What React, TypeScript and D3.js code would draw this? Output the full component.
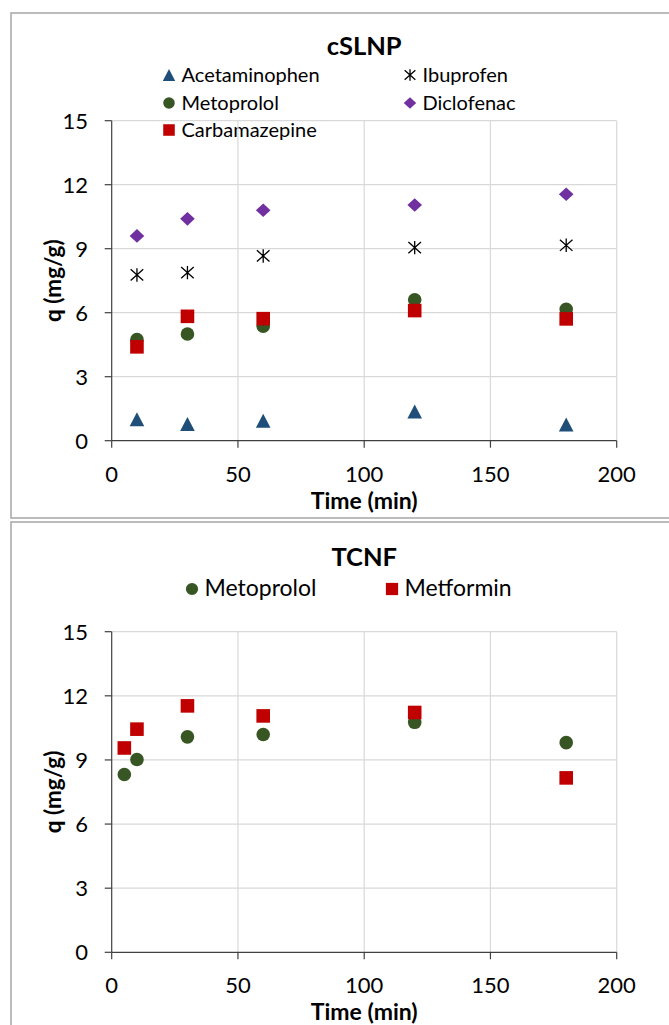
import React from "react";
import * as d3 from "d3";

// cSLNP panel
const timeTop = [10, 30, 60, 120, 180];
const acetaminophen = [1.01, 0.78, 0.94, 1.37, 0.76];
const ibuprofen = [7.77, 7.88, 8.66, 9.05, 9.16];
const metoprololTop = [4.74, 5.0, 5.37, 6.61, 6.16];
const diclofenac = [9.6, 10.4, 10.8, 11.05, 11.55];
const carbamazepine = [4.4, 5.83, 5.72, 6.1, 5.71];

// TCNF panel
const timeBottom = [5, 10, 30, 60, 120, 180];
const metoprololBottom = [8.32, 9.02, 10.08, 10.19, 10.76, 9.81];
const metformin = [9.56, 10.44, 11.53, 11.06, 11.22, 8.16];

const xTicks = [0, 50, 100, 150, 200];
const yTicks = [0, 3, 6, 9, 12, 15];

const FONT = "Lato, 'Open Sans', sans-serif";

// marker shapes (Excel style, ~14px)
const markerPath = (shape: string, cx: number, cy: number, s = 1) => {
    const p = d3.path();
    if (shape === "triangle") {
        p.moveTo(cx, cy - 7 * s);
        p.lineTo(cx + 7.3 * s, cy + 7 * s);
        p.lineTo(cx - 7.3 * s, cy + 7 * s);
        p.closePath();
    } else if (shape === "diamond") {
        p.moveTo(cx, cy - 6.8 * s);
        p.lineTo(cx + 7.3 * s, cy);
        p.lineTo(cx, cy + 6.8 * s);
        p.lineTo(cx - 7.3 * s, cy);
        p.closePath();
    } else if (shape === "square") {
        p.rect(cx - 6.8 * s, cy - 6.8 * s, 13.6 * s, 13.6 * s);
    } else if (shape === "circle") {
        p.moveTo(cx + 6.8 * s, cy);
        p.arc(cx, cy, 6.8 * s, 0, 2 * Math.PI);
    } else if (shape === "star") {
        p.moveTo(cx - 6.3 * s, cy - 5.6 * s); p.lineTo(cx + 6.3 * s, cy + 5.6 * s);
        p.moveTo(cx - 6.3 * s, cy + 5.6 * s); p.lineTo(cx + 6.3 * s, cy - 5.6 * s);
        p.moveTo(cx, cy - 6.7 * s); p.lineTo(cx, cy + 6.7 * s);
    }
    return p.toString();
};

const Marker = ({ shape, color, cx, cy, s = 1 }: any) =>
    shape === "star" ? (
        <path d={markerPath(shape, cx, cy, s)} stroke={color} strokeWidth={1.3} fill="none" />
    ) : (
        <path d={markerPath(shape, cx, cy, s)} fill={color} />
    );

const Panel = ({ title, titleY, top, bottom, series, legend, legendSize }: any) => {
    const xScale = d3.scaleLinear().domain([0, 200]).range([111.7, 616.7]);
    const yScale = d3.scaleLinear().domain([0, 15]).range([bottom, top]);
    const midX = (xScale(0) + xScale(200)) / 2;

    return (
        <g>
            {/* Title */}
            <text x={midX} y={titleY} textAnchor="middle" fontSize={25.5} fontWeight="bold" fontFamily={FONT}>
                {title}
            </text>

            {/* Legend */}
            {legend.map((l: any) => (
                <g key={l.name}>
                    <Marker shape={l.shape} color={l.color} cx={l.x} cy={l.y} s={l.s || 0.85} />
                    <text x={l.x + 12.5} y={l.y + 7} fontSize={legendSize} fontFamily={FONT}>
                        {l.name}
                    </text>
                </g>
            ))}

            {/* Gridlines */}
            {yTicks.filter(t => t > 0).map(t => (
                <line key={"gy" + t} x1={xScale(0)} x2={xScale(200)} y1={yScale(t)} y2={yScale(t)} stroke="#d9d9d9" strokeWidth={1.2} />
            ))}
            {xTicks.filter(t => t > 0).map(t => (
                <line key={"gx" + t} x1={xScale(t)} x2={xScale(t)} y1={yScale(0)} y2={yScale(15)} stroke="#d9d9d9" strokeWidth={1.2} />
            ))}

            {/* Axes */}
            <line x1={xScale(0)} x2={xScale(0)} y1={yScale(0)} y2={yScale(15)} stroke="#404040" strokeWidth={1.2} />
            <line x1={xScale(0)} x2={xScale(200)} y1={yScale(0)} y2={yScale(0)} stroke="#404040" strokeWidth={1.2} />
            {yTicks.map(t => (
                <g key={"ty" + t}>
                    <line x1={xScale(0) - 7} x2={xScale(0)} y1={yScale(t)} y2={yScale(t)} stroke="#404040" strokeWidth={1.2} />
                    <text x={88} y={yScale(t) + 8} textAnchor="end" fontSize={22} fontFamily={FONT}>{t}</text>
                </g>
            ))}
            {xTicks.map(t => (
                <g key={"tx" + t}>
                    <line x1={xScale(t)} x2={xScale(t)} y1={yScale(0)} y2={yScale(0) + 7} stroke="#404040" strokeWidth={1.2} />
                    <text x={xScale(t)} y={yScale(0) + 41} textAnchor="middle" fontSize={22} fontFamily={FONT}>{t}</text>
                </g>
            ))}

            {/* Axis titles */}
            <text x={midX} y={yScale(0) + 68} textAnchor="middle" fontSize={23} fontWeight="bold" fontFamily={FONT}>
                Time (min)
            </text>
            <text
                transform={`translate(61, ${(yScale(0) + yScale(15)) / 2}) rotate(-90)`}
                textAnchor="middle"
                fontSize={22.5}
                fontWeight="bold"
                fontFamily={FONT}
            >
                q (mg/g)
            </text>

            {/* Points */}
            {series.map((s: any) =>
                s.values.map((v: number, i: number) => (
                    <Marker key={s.name + i} shape={s.shape} color={s.color} cx={xScale(s.time[i])} cy={yScale(v)} />
                ))
            )}
        </g>
    );
};

const App = () => {
    const topSeries = [
        { name: "Acetaminophen", shape: "triangle", color: "#1f4e79", time: timeTop, values: acetaminophen },
        { name: "Metoprolol", shape: "circle", color: "#375623", time: timeTop, values: metoprololTop },
        { name: "Ibuprofen", shape: "star", color: "#000000", time: timeTop, values: ibuprofen },
        { name: "Carbamazepine", shape: "square", color: "#c00000", time: timeTop, values: carbamazepine },
        { name: "Diclofenac", shape: "diamond", color: "#7030a0", time: timeTop, values: diclofenac },
    ];
    const topLegend = [
        { name: "Acetaminophen", shape: "triangle", color: "#1f4e79", x: 169, y: 75 },
        { name: "Ibuprofen", shape: "star", color: "#000000", x: 410, y: 75 },
        { name: "Metoprolol", shape: "circle", color: "#375623", x: 169, y: 103 },
        { name: "Diclofenac", shape: "diamond", color: "#7030a0", x: 410, y: 103 },
        { name: "Carbamazepine", shape: "square", color: "#c00000", x: 169, y: 130 },
    ];
    const bottomSeries = [
        { name: "Metoprolol", shape: "circle", color: "#375623", time: timeBottom, values: metoprololBottom },
        { name: "Metformin", shape: "square", color: "#c00000", time: timeBottom, values: metformin },
    ];
    const bottomLegend = [
        { name: "Metoprolol", shape: "circle", color: "#375623", x: 192, y: 589, s: 0.9 },
        { name: "Metformin", shape: "square", color: "#c00000", x: 392, y: 589, s: 0.9 },
    ];

    return (
        <svg width={669} height={1025} style={{ position: "absolute", left: 0, top: 0, background: "white" }}>
            {/* panel frames */}
            <rect x={11} y={13} width={680} height={505} fill="white" stroke="#a6a6a6" strokeWidth={1.5} />
            <rect x={11} y={522} width={680} height={520} fill="white" stroke="#a6a6a6" strokeWidth={1.5} />

            <Panel title="cSLNP" titleY={55} top={120.7} bottom={440.7} series={topSeries} legend={topLegend} legendSize={20} />
            <Panel title="TCNF" titleY={566} top={631.7} bottom={952.3} series={bottomSeries} legend={bottomLegend} legendSize={23} />
        </svg>
    );
};

export default App;
